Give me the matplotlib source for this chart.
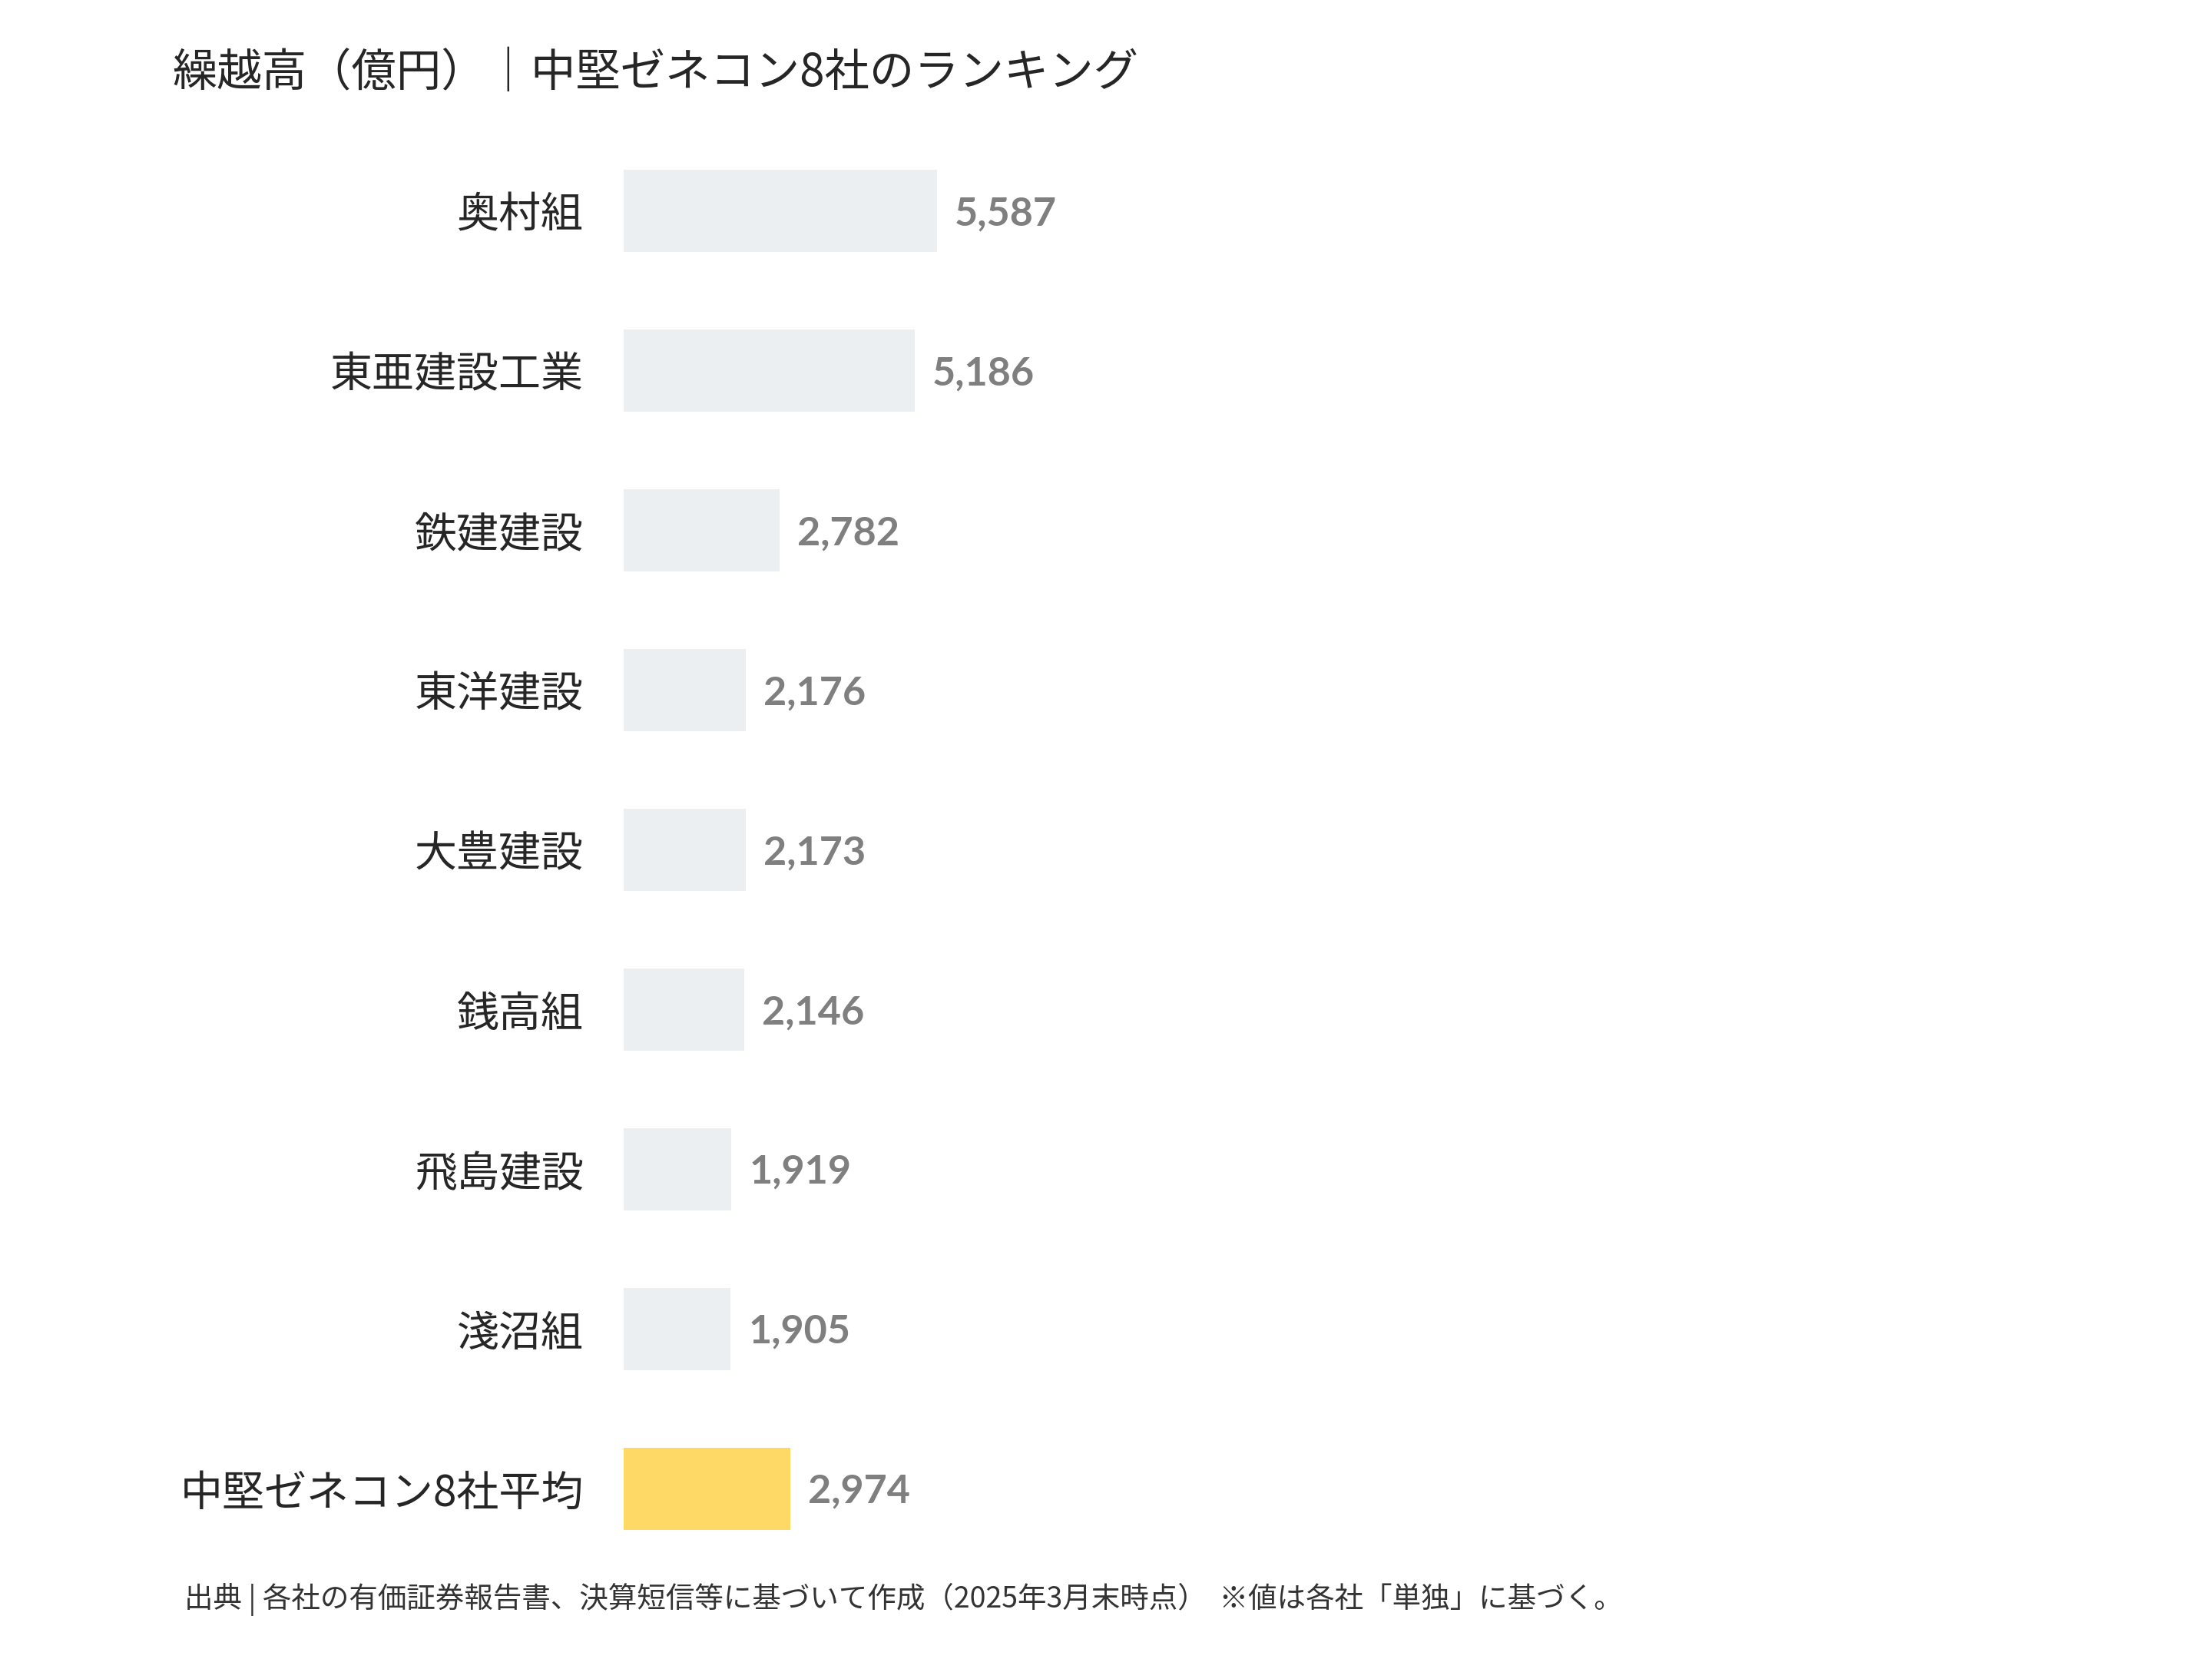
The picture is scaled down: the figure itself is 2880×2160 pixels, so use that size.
import matplotlib
import matplotlib.pyplot as plt

plt.rcParams['font.family'] = ['Noto Sans CJK JP', 'DejaVu Sans']

companies = ['奥村組', '東亜建設工業', '鉄建建設', '東洋建設', '大豊建設',
             '銭高組', '飛島建設', '淺沼組', '中堅ゼネコン8社平均']
values = [5587, 5186, 2782, 2176, 2173, 2146, 1919, 1905, 2974]
title = '繰越高（億円）｜中堅ゼネコン8社のランキング'
note = '出典 | 各社の有価証券報告書、決算短信等に基づいて作成（2025年3月末時点）  ※値は各社「単独」に基づく。'

gray = '#ECEFF2'
gold = '#FFD966'
colors = [gray] * 8 + [gold]

fig = plt.figure(figsize=(9.6, 7.2), dpi=300)
ax = fig.add_axes([0.282, 0.0545, 0.6594, 0.8665])

pos = list(range(len(companies)))
ax.barh(pos, values, height=0.513, color=colors)
for p, v in zip(pos, values):
    ax.annotate(f'{v:,}', (v, p), xytext=(5.5, -1), textcoords='offset points',
                ha='left', va='center', fontsize=12.5, fontweight='bold',
                color='#7F7F7F', family=['Lato', 'DejaVu Sans'])

ax.set_xlim(0, 26000)
ax.set_ylim(8.5, -0.5)
ax.set_yticks(pos)
ax.set_yticklabels(companies, fontsize=13.2, color='#262626')
ax.tick_params(axis='y', length=0, pad=12.5)
ax.set_xticks([])
for s in ax.spines.values():
    s.set_visible(False)

fig.text(0.078, 0.9556, title, fontsize=14, color='#262626', ha='left', va='center')
fig.text(0.0833, 0.036, note, fontsize=9, color='#333333', ha='left', va='center')

plt.savefig('out.png', dpi=300)
